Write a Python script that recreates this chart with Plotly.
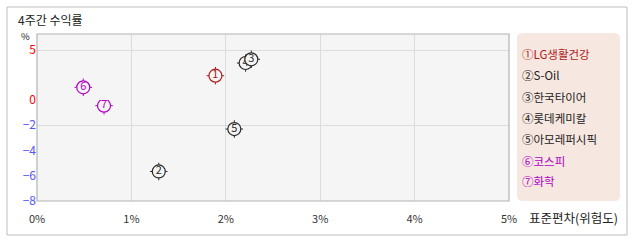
import plotly.graph_objects as go

# ---- data ----
names = ["LG생활건강", "S-Oil", "한국타이어", "롯데케미칼", "아모레퍼시픽", "코스피", "화학"]
marks = ["①", "②", "③", "④", "⑤", "⑥", "⑦"]
digits = ["1", "2", "3", "4", "5", "6", "7"]
std_dev = [1.89, 1.29, 2.27, 2.21, 2.09, 0.49, 0.71]      # x, %
returns = [2.43, -5.66, 4.07, 3.70, -2.30, 1.27, -0.45]   # y, %
colors = ["#aa1c1c", "#2a2a2a", "#2a2a2a", "#2a2a2a", "#2a2a2a", "#b000c4", "#b000c4"]
legend_colors = ["#b01818", "#222222", "#222222", "#222222", "#222222", "#b000c4", "#b000c4"]

x_ticks = [0, 1, 2, 3, 4, 5]
x_ticktext = ["0%", "1%", "2%", "3%", "4%", "5%"]
y_pos_ticks = [0, 5]
y_neg_ticks = [-2, -4, -6, -8]

FONT = "Noto Sans CJK KR"
W, H = 638, 242
L, R, T, B = 37, 129, 34, 41
PW, PH = W - L - R, H - T - B
split = 101 / PH  # boundary between negative (bottom) and positive (top) scale


def px(xp):
    return (xp - L) / PW


def py(yp):
    return (H - B - yp) / PH


fig = go.Figure()

order = list(range(len(names)))[::-1]
for i in order:
    ya = "y" if returns[i] >= 0 else "y2"
    fig.add_trace(go.Scatter(
        x=[std_dev[i]], y=[returns[i]], yaxis=ya, mode="markers",
        marker=dict(symbol="cross-thin-open", size=12.5, color=colors[i],
                    line=dict(width=1, color=colors[i])),
        showlegend=False, hoverinfo="skip"))
for i in order:
    ya = "y" if returns[i] >= 0 else "y2"
    fig.add_trace(go.Scatter(
        x=[std_dev[i]], y=[returns[i]], yaxis=ya, mode="markers+text",
        text=[digits[i]], textposition="middle center",
        textfont=dict(family=FONT, size=11, color=colors[i]),
        marker=dict(symbol="circle", size=13, color="#f5f5f5",
                    line=dict(width=1.2, color=colors[i])),
        name=names[i], showlegend=False))

grid = "#dcdcdc"
fig.update_layout(
    width=W, height=H, margin=dict(l=L, r=R, t=T, b=B),
    paper_bgcolor="white", plot_bgcolor="#f5f5f5",
    font=dict(family=FONT, size=11, color="#333"),
    xaxis=dict(range=[0, 5], tickvals=x_ticks, ticktext=x_ticktext,
               showgrid=True, gridcolor=grid, zeroline=False, ticks="",
               ticklabelstandoff=10,
               tickfont=dict(size=11, color="#333"), anchor="y2", fixedrange=True),
    yaxis=dict(domain=[split, 1], range=[0, 6.6], tickvals=y_pos_ticks,
               showgrid=True, gridcolor=grid, zeroline=False, ticks="",
               tickfont=dict(size=12, color="#ff0000"), anchor="x"),
    yaxis2=dict(domain=[0, split], range=[-8, 0], tickvals=y_neg_ticks,
                showgrid=False, zeroline=False, ticks="",
                tickfont=dict(size=12, color="#5555ff"), anchor="x"),
    yaxis3=dict(overlaying="y2", range=[-8, 0], tickvals=[-2], showticklabels=False,
                showgrid=True, gridcolor=grid, zeroline=False, ticks="", anchor="x"),
)
# dummy trace so yaxis3 grid is rendered
fig.add_trace(go.Scatter(x=[None], y=[None], yaxis="y3", showlegend=False, hoverinfo="skip"))

shapes = []
# outer frame
shapes.append(dict(type="rect", xref="paper", yref="paper",
                   x0=px(7), x1=px(627), y0=py(235), y1=py(7),
                   line=dict(color="#bdbdbd", width=1), layer="below"))
# plot border
shapes.append(dict(type="rect", xref="paper", yref="paper", x0=0, x1=1, y0=0, y1=1,
                   line=dict(color="#b4b4b4", width=1.2)))
# legend box with rounded corners
x0, x1, y0, y1 = px(517), px(620), py(201), py(33)
rx, ry = 6 / PW, 6 / PH
path = (f"M {x0+rx} {y1} L {x1-rx} {y1} Q {x1} {y1} {x1} {y1-ry} "
        f"L {x1} {y0+ry} Q {x1} {y0} {x1-rx} {y0} L {x0+rx} {y0} "
        f"Q {x0} {y0} {x0} {y0+ry} L {x0} {y1-ry} Q {x0} {y1} {x0+rx} {y1} Z")
shapes.append(dict(type="path", xref="paper", yref="paper", path=path,
                   fillcolor="#f6e7e0", line=dict(width=0), layer="below"))
fig.update_layout(shapes=shapes)

ann = []
ann.append(dict(xref="paper", yref="paper", x=px(16), y=py(19), xanchor="left",
                yanchor="middle", text="4주간 수익률", showarrow=False,
                font=dict(family=FONT, size=12, color="#222")))
ann.append(dict(xref="paper", yref="paper", x=px(25), y=py(36.5), xanchor="center",
                yanchor="middle", text="%", showarrow=False,
                font=dict(family=FONT, size=9.5, color="#222")))
ann.append(dict(xref="paper", yref="paper", x=px(527), y=py(217), xanchor="left",
                yanchor="middle", text="표준편차(위험도)", showarrow=False,
                font=dict(family=FONT, size=12.5, color="#222")))
row_y = [54, 75, 97, 118, 139, 161, 181]
for i in range(len(names)):
    ann.append(dict(xref="paper", yref="paper", x=px(520), y=py(row_y[i]),
                    xanchor="left", yanchor="middle", text=marks[i] + names[i],
                    showarrow=False,
                    font=dict(family=FONT, size=11.5, color=legend_colors[i])))
fig.update_layout(annotations=ann)

fig.write_html("out.html")
